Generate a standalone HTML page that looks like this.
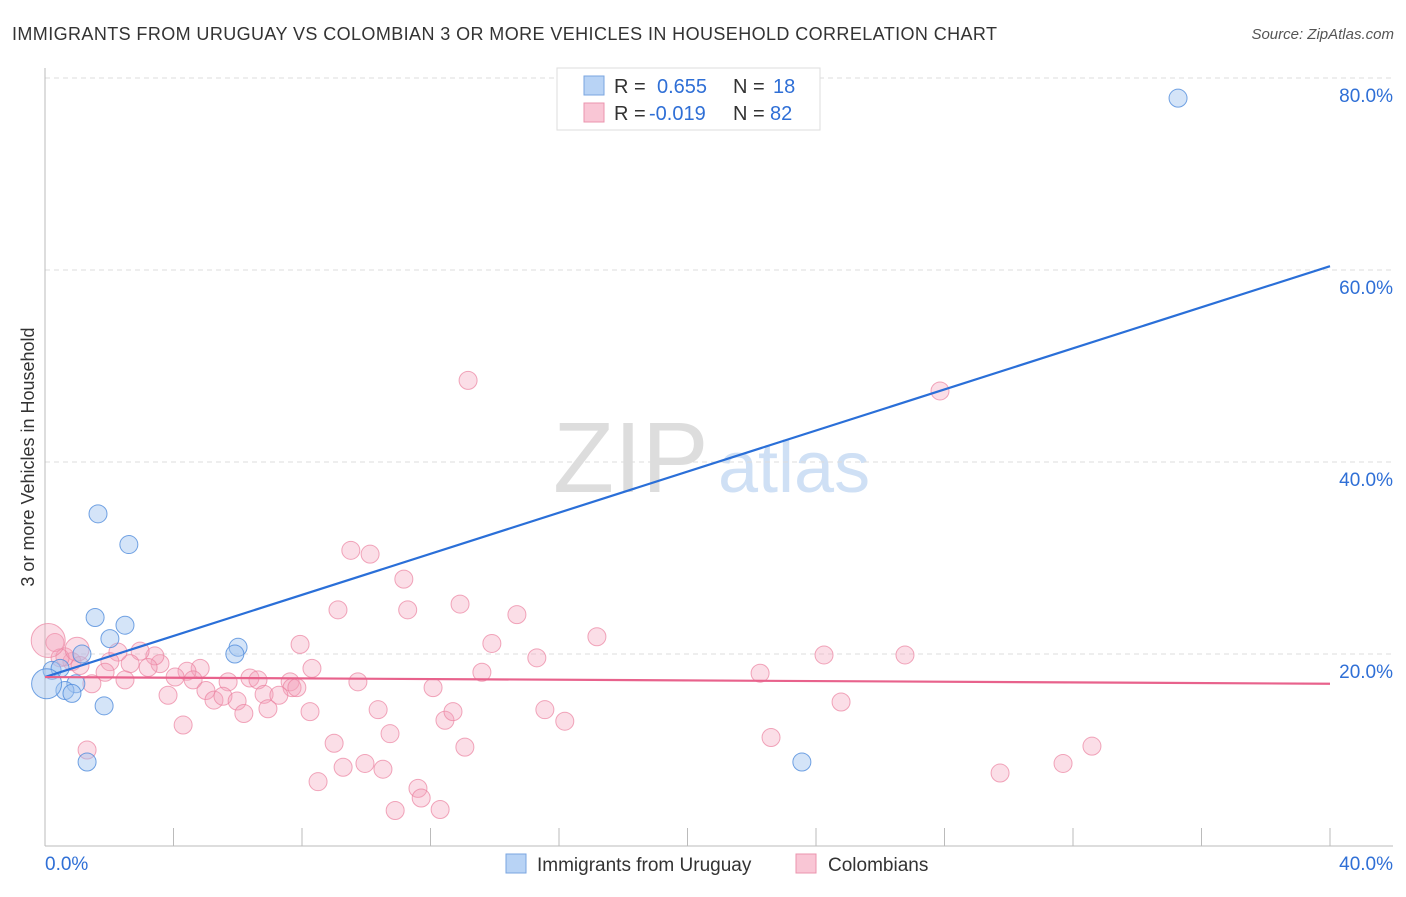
<!DOCTYPE html>
<html><head><meta charset="utf-8"><style>
body{margin:0;background:#fff;font-family:"Liberation Sans",sans-serif;}
svg text{font-family:"Liberation Sans",sans-serif;}
</style></head><body>
<svg id="chart" width="1406" height="892">
<text x="12" y="40" font-size="18" fill="#333" textLength="985">IMMIGRANTS FROM URUGUAY VS COLOMBIAN 3 OR MORE VEHICLES IN HOUSEHOLD CORRELATION CHART</text>
<text x="1394" y="39" font-size="15" fill="#555" font-style="italic" text-anchor="end">Source: ZipAtlas.com</text>
<text transform="translate(34,457) rotate(-90)" font-size="18" fill="#333" text-anchor="middle">3 or more Vehicles in Household</text>
<text x="553" y="492" font-size="100" fill="#ddd" font-family="Liberation Serif">ZIP</text>
<text x="718" y="492" font-size="72" fill="#cfe0f5">atlas</text>
<g id="grid"></g><g id="axes"></g><g id="pts"></g><g id="lines"></g>
<g>
<rect x="557" y="68" width="263" height="62" fill="#fff" stroke="#ddd"/>
<rect x="584" y="76" width="20" height="19" fill="#b8d3f5" stroke="#7aa6e0"/>
<rect x="584" y="103" width="20" height="19" fill="#f9c6d5" stroke="#eb94ae"/>
<text x="614" y="93" font-size="20" fill="#333">R = </text><text x="657" y="93" font-size="20" fill="#2f6fd6">0.655</text>
<text x="733" y="93" font-size="20" fill="#333">N = </text><text x="773" y="93" font-size="20" fill="#2f6fd6">18</text>
<text x="614" y="120" font-size="20" fill="#333">R = </text><text x="649" y="120" font-size="20" fill="#2f6fd6">-0.019</text>
<text x="733" y="120" font-size="20" fill="#333">N = </text><text x="770" y="120" font-size="20" fill="#2f6fd6">82</text>
</g>
<g><rect x="506" y="854" width="20" height="19" fill="#b8d3f5" stroke="#7aa6e0"/><text x="537" y="871" font-size="19" fill="#333">Immigrants from Uruguay</text></g>
<g><rect x="796" y="854" width="20" height="19" fill="#f9c6d5" stroke="#eb94ae"/><text x="828" y="871" font-size="19" fill="#333">Colombians</text></g>
</svg>
<script>
const yTicks=[20,40,60,80];
const yTickLabels=["20.0%","40.0%","60.0%","80.0%"];
const xTickLabels=["0.0%","40.0%"];
const blueX=[35.27,1.65,2.61,1.56,2.49,2.02,1.15,6.01,5.91,0.22,0.47,0.96,0.62,0.84,1.84,1.31,23.56,0.05];
const blueY=[77.9,34.6,31.4,23.8,23.0,21.6,20.0,20.7,20.0,18.3,18.5,16.9,16.2,15.9,14.6,8.75,8.75,16.9];
const pinkX=[13.17,27.86,9.52,10.12,11.17,9.12,11.29,12.92,14.69,17.18,7.94,13.91,15.31,24.25,26.77,22.26,13.6,8.31,9.74,12.08,7.63,6.38,6.63,7.69,7.84,6.82,7.28,5.7,4.83,4.42,4.61,4.05,3.58,3.42,2.96,3.21,2.65,2.27,2.02,2.49,1.87,1.46,0.84,0.62,0.31,0.47,1.09,3.83,5.01,5.26,5.54,5.98,6.19,6.94,8.25,4.3,10.37,12.45,12.7,15.56,16.18,24.78,22.6,10.74,9.0,13.07,9.28,9.96,10.52,8.5,11.61,11.71,10.9,12.3,29.73,31.69,32.59,1.31,1.0,0.1];
const pinkY=[48.5,47.4,30.8,30.4,27.8,24.6,24.6,25.2,24.1,21.8,21.0,21.1,19.6,19.9,19.9,18.0,18.1,18.5,17.1,16.5,17.1,17.5,17.3,16.5,16.5,15.8,15.7,17.1,18.5,18.2,17.3,17.6,19.0,19.8,20.3,18.6,19.0,20.2,19.2,17.3,18.1,16.9,19.2,19.7,21.2,19.6,18.8,15.7,16.2,15.2,15.6,15.1,13.8,14.3,14.0,12.6,14.2,13.1,14.0,14.2,13.0,15.0,11.3,11.7,10.7,10.3,8.2,8.6,8.0,6.7,6.0,5.0,3.7,3.8,7.6,8.6,10.4,10.0,20.5,21.4];
const X=v=>45+v*32.125, Y=v=>846-v*9.6;
const ns="http://www.w3.org/2000/svg";
function mk(tag,attrs,parent){const e=document.createElementNS(ns,tag);for(const k in attrs)e.setAttribute(k,attrs[k]);document.getElementById(parent).appendChild(e);return e;}
yTicks.forEach((t,i)=>{
 const g=mk('line',{x1:45,x2:1393,y1:Y(t),y2:Y(t),stroke:'#ddd','stroke-dasharray':'5,4'},'grid');
 
 
 const l=mk('text',{x:1393,y:Y(t)+24,'font-size':19,fill:'#2f6fd6','text-anchor':'end'},'grid');
 l.textContent=yTickLabels[i];
 
 
});
let a=mk('line',{x1:45,x2:45,y1:68,y2:846,stroke:'#bbb'},'axes');


a=mk('line',{x1:45,x2:1393,y1:846,y2:846,stroke:'#bbb'},'axes');


for(let i=1;i<=10;i++){const t=mk('line',{x1:X(i*4),x2:X(i*4),y1:828,y2:846,stroke:'#bbb'},'axes');
 
 }
[[0,'start',45],[40,'end',1393]].forEach((d,i)=>{const l=mk('text',{x:d[2],y:870,'font-size':19,fill:'#2f6fd6','text-anchor':d[1]},'axes');l.textContent=xTickLabels[i];
 
 });
pinkX.forEach((x,i)=>{const big=(i>=78);const c=mk('circle',{cx:X(x),cy:Y(pinkY[i]),r:big?(i==79?17:12):9,fill:'rgba(244,160,185,0.35)',stroke:'rgba(235,130,160,0.7)','stroke-width':1},'pts');
 
 });
blueX.forEach((x,i)=>{const c=mk('circle',{cx:X(x),cy:Y(blueY[i]),r:i==17?15:9,fill:'rgba(160,195,240,0.45)',stroke:'rgba(80,140,220,0.8)','stroke-width':1},'pts');
 
 });
const blueLine=[17.6,60.4], pinkLine=[17.6,16.9];
let ln=mk('line',{x1:X(0),y1:Y(blueLine[0]),x2:X(40),y2:Y(blueLine[1]),stroke:'#2a6fd8','stroke-width':2.2},'lines');


ln=mk('line',{x1:X(0),y1:Y(pinkLine[0]),x2:X(40),y2:Y(pinkLine[1]),stroke:'#e8628c','stroke-width':2.2},'lines');


</script>
</body></html>
